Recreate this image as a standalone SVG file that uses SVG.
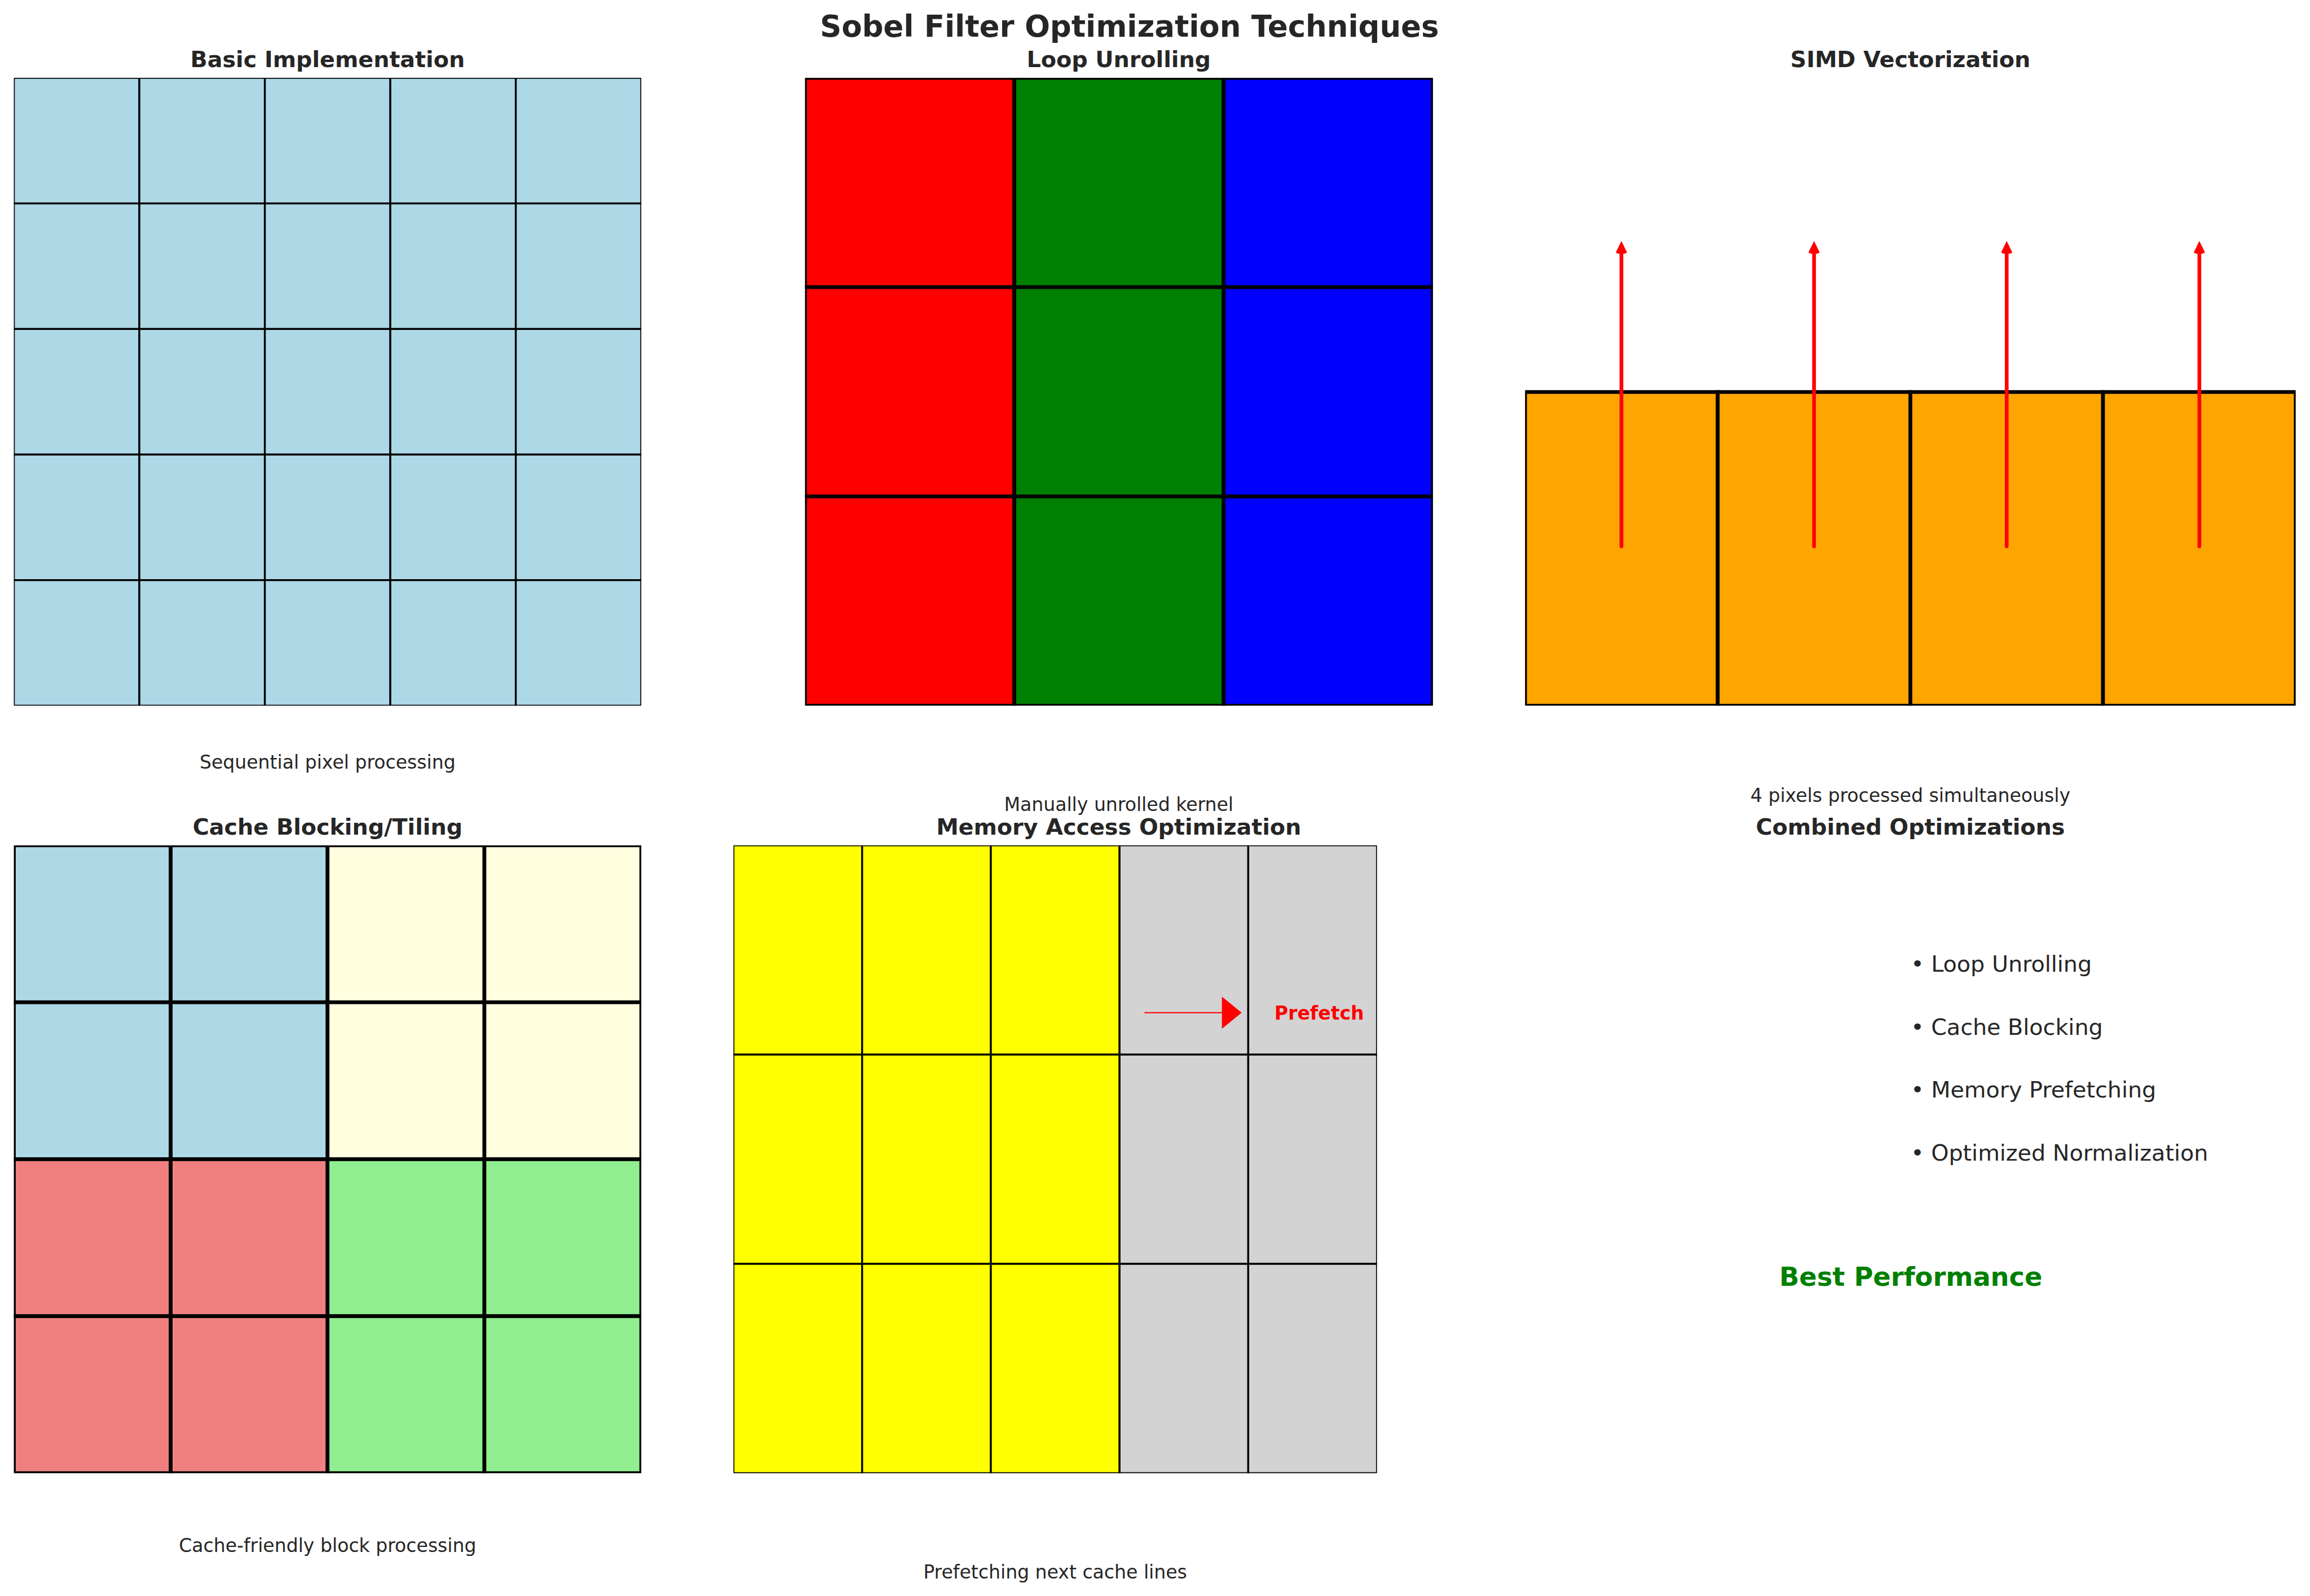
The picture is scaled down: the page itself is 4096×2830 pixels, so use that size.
<svg xmlns="http://www.w3.org/2000/svg" width="4096" height="2830" viewBox="0 0 4096 2830">
<style>
text{font-family:"DejaVu Sans","Liberation Sans",sans-serif;fill:#262626}
.t0{font-weight:bold;font-size:66.7px;text-anchor:middle}
.t1{font-weight:bold;font-size:50px;text-anchor:middle}
.cap{font-size:41.7px;text-anchor:middle}
.bul{font-size:50px}
.best{font-weight:bold;font-size:58.3px;text-anchor:middle;fill:#008000}
.pf{font-weight:bold;font-size:41.7px;fill:#ff0000}
.k1{stroke:#000;stroke-width:4.17}
.k2{stroke:#000;stroke-width:8.33}
.lb{fill:#add8e6}.ly{fill:#ffffe0}.lc{fill:#f08080}.lg{fill:#90ee90}
.r{fill:#ff0000}.g{fill:#008000}.b{fill:#0000ff}.o{fill:#ffa500}.y{fill:#ffff00}.gr{fill:#d3d3d3}
.ar{stroke:#ff0000;stroke-width:8.33;fill:none}
</style>
<defs>
<clipPath id="a1"><rect x="31" y="174" width="1402" height="1403"/></clipPath>
<clipPath id="a2"><rect x="1799" y="174" width="1403" height="1403"/></clipPath>
<clipPath id="a3"><rect x="3408" y="0" width="1722" height="1577"/></clipPath>
<clipPath id="a4"><rect x="31" y="1889" width="1402" height="1403"/></clipPath>
<clipPath id="a5"><rect x="1639" y="1889" width="1438" height="1403"/></clipPath>
</defs>
<rect width="4096" height="2830" fill="#fff"/>
<g transform="scale(0.79349)">
<text id="main-title" class="t0" x="2524" y="82">Sobel Filter Optimization Techniques</text>

<g id="basic">
<text class="t1" x="732" y="150">Basic Implementation</text>
<g clip-path="url(#a1)" class="k1 lb">
<rect x="31" y="174" width="280.4" height="280.6"/><rect x="311.4" y="174" width="280.4" height="280.6"/><rect x="591.8" y="174" width="280.4" height="280.6"/><rect x="872.2" y="174" width="280.4" height="280.6"/><rect x="1152.6" y="174" width="280.4" height="280.6"/>
<rect x="31" y="454.6" width="280.4" height="280.6"/><rect x="311.4" y="454.6" width="280.4" height="280.6"/><rect x="591.8" y="454.6" width="280.4" height="280.6"/><rect x="872.2" y="454.6" width="280.4" height="280.6"/><rect x="1152.6" y="454.6" width="280.4" height="280.6"/>
<rect x="31" y="735.2" width="280.4" height="280.6"/><rect x="311.4" y="735.2" width="280.4" height="280.6"/><rect x="591.8" y="735.2" width="280.4" height="280.6"/><rect x="872.2" y="735.2" width="280.4" height="280.6"/><rect x="1152.6" y="735.2" width="280.4" height="280.6"/>
<rect x="31" y="1015.8" width="280.4" height="280.6"/><rect x="311.4" y="1015.8" width="280.4" height="280.6"/><rect x="591.8" y="1015.8" width="280.4" height="280.6"/><rect x="872.2" y="1015.8" width="280.4" height="280.6"/><rect x="1152.6" y="1015.8" width="280.4" height="280.6"/>
<rect x="31" y="1296.4" width="280.4" height="280.6"/><rect x="311.4" y="1296.4" width="280.4" height="280.6"/><rect x="591.8" y="1296.4" width="280.4" height="280.6"/><rect x="872.2" y="1296.4" width="280.4" height="280.6"/><rect x="1152.6" y="1296.4" width="280.4" height="280.6"/>
</g>
<text class="cap" x="732" y="1718">Sequential pixel processing</text>
</g>

<g id="loop-unrolling">
<text class="t1" x="2500" y="150">Loop Unrolling</text>
<g clip-path="url(#a2)" class="k2">
<rect class="r" x="1799" y="174" width="467.67" height="467.67"/><rect class="g" x="2266.67" y="174" width="467.67" height="467.67"/><rect class="b" x="2734.33" y="174" width="467.67" height="467.67"/>
<rect class="r" x="1799" y="641.67" width="467.67" height="467.67"/><rect class="g" x="2266.67" y="641.67" width="467.67" height="467.67"/><rect class="b" x="2734.33" y="641.67" width="467.67" height="467.67"/>
<rect class="r" x="1799" y="1109.33" width="467.67" height="467.67"/><rect class="g" x="2266.67" y="1109.33" width="467.67" height="467.67"/><rect class="b" x="2734.33" y="1109.33" width="467.67" height="467.67"/>
</g>
<text class="cap" x="2500" y="1812">Manually unrolled kernel</text>
</g>

<g id="simd">
<text class="t1" x="4269" y="150">SIMD Vectorization</text>
<g clip-path="url(#a3)" class="k2 o">
<rect x="3408" y="876" width="430.5" height="701"/><rect x="3838.5" y="876" width="430.5" height="701"/><rect x="4269" y="876" width="430.5" height="701"/><rect x="4699.5" y="876" width="430.5" height="701"/>
</g>
<text class="cap" x="4269" y="1792">4 pixels processed simultaneously</text>
</g>

<g id="cache-blocking">
<text class="t1" x="732" y="1865">Cache Blocking/Tiling</text>
<g clip-path="url(#a4)" class="k2">
<rect class="lb" x="31" y="1889" width="350.5" height="350.75"/><rect class="lb" x="381.5" y="1889" width="350.5" height="350.75"/><rect class="ly" x="732" y="1889" width="350.5" height="350.75"/><rect class="ly" x="1082.5" y="1889" width="350.5" height="350.75"/>
<rect class="lb" x="31" y="2239.75" width="350.5" height="350.75"/><rect class="lb" x="381.5" y="2239.75" width="350.5" height="350.75"/><rect class="ly" x="732" y="2239.75" width="350.5" height="350.75"/><rect class="ly" x="1082.5" y="2239.75" width="350.5" height="350.75"/>
<rect class="lc" x="31" y="2590.5" width="350.5" height="350.75"/><rect class="lc" x="381.5" y="2590.5" width="350.5" height="350.75"/><rect class="lg" x="732" y="2590.5" width="350.5" height="350.75"/><rect class="lg" x="1082.5" y="2590.5" width="350.5" height="350.75"/>
<rect class="lc" x="31" y="2941.25" width="350.5" height="350.75"/><rect class="lc" x="381.5" y="2941.25" width="350.5" height="350.75"/><rect class="lg" x="732" y="2941.25" width="350.5" height="350.75"/><rect class="lg" x="1082.5" y="2941.25" width="350.5" height="350.75"/>
</g>
<text class="cap" x="732" y="3468">Cache-friendly block processing</text>
</g>

<g id="memory-access">
<text class="t1" x="2500" y="1865">Memory Access Optimization</text>
<g clip-path="url(#a5)" class="k1">
<rect class="y" x="1639" y="1889" width="287.6" height="467.67"/><rect class="y" x="1926.6" y="1889" width="287.6" height="467.67"/><rect class="y" x="2214.2" y="1889" width="287.6" height="467.67"/><rect class="gr" x="2501.8" y="1889" width="287.6" height="467.67"/><rect class="gr" x="2789.4" y="1889" width="287.6" height="467.67"/>
<rect class="y" x="1639" y="2356.67" width="287.6" height="467.67"/><rect class="y" x="1926.6" y="2356.67" width="287.6" height="467.67"/><rect class="y" x="2214.2" y="2356.67" width="287.6" height="467.67"/><rect class="gr" x="2501.8" y="2356.67" width="287.6" height="467.67"/><rect class="gr" x="2789.4" y="2356.67" width="287.6" height="467.67"/>
<rect class="y" x="1639" y="2824.33" width="287.6" height="467.67"/><rect class="y" x="1926.6" y="2824.33" width="287.6" height="467.67"/><rect class="y" x="2214.2" y="2824.33" width="287.6" height="467.67"/><rect class="gr" x="2501.8" y="2824.33" width="287.6" height="467.67"/><rect class="gr" x="2789.4" y="2824.33" width="287.6" height="467.67"/>
</g>
<text class="pf" x="2848" y="2278">Prefetch</text>
<text class="cap" x="2358" y="3527">Prefetching next cache lines</text>
</g>

<g id="combined">
<text class="t1" x="4269" y="1865">Combined Optimizations</text>
<text class="bul" x="4270" y="2171">• Loop Unrolling</text>
<text class="bul" x="4270" y="2312">• Cache Blocking</text>
<text class="bul" x="4270" y="2452">• Memory Prefetching</text>
<text class="bul" x="4270" y="2593">• Optimized Normalization</text>
<text class="best" x="4270" y="2873">Best Performance</text>
</g>

<g id="connectors">
<path class="ar" stroke-linecap="round" d="M3623.25,1221V550M4053.75,1221V550M4484.25,1221V550M4914.75,1221V550"/>
<path class="ar" d="M3614.4,566L3623.25,548L3632.1,566M4044.9,566L4053.75,548L4062.6,566M4475.4,566L4484.25,548L4493.1,566M4905.9,566L4914.75,548L4923.6,566"/>
<path fill="#ff0000" stroke="#ff0000" stroke-width="1" d="M2558,2262.2H2731V2228L2774,2263L2731,2298V2263.8H2558Z"/>
</g>
</g>
</svg>
